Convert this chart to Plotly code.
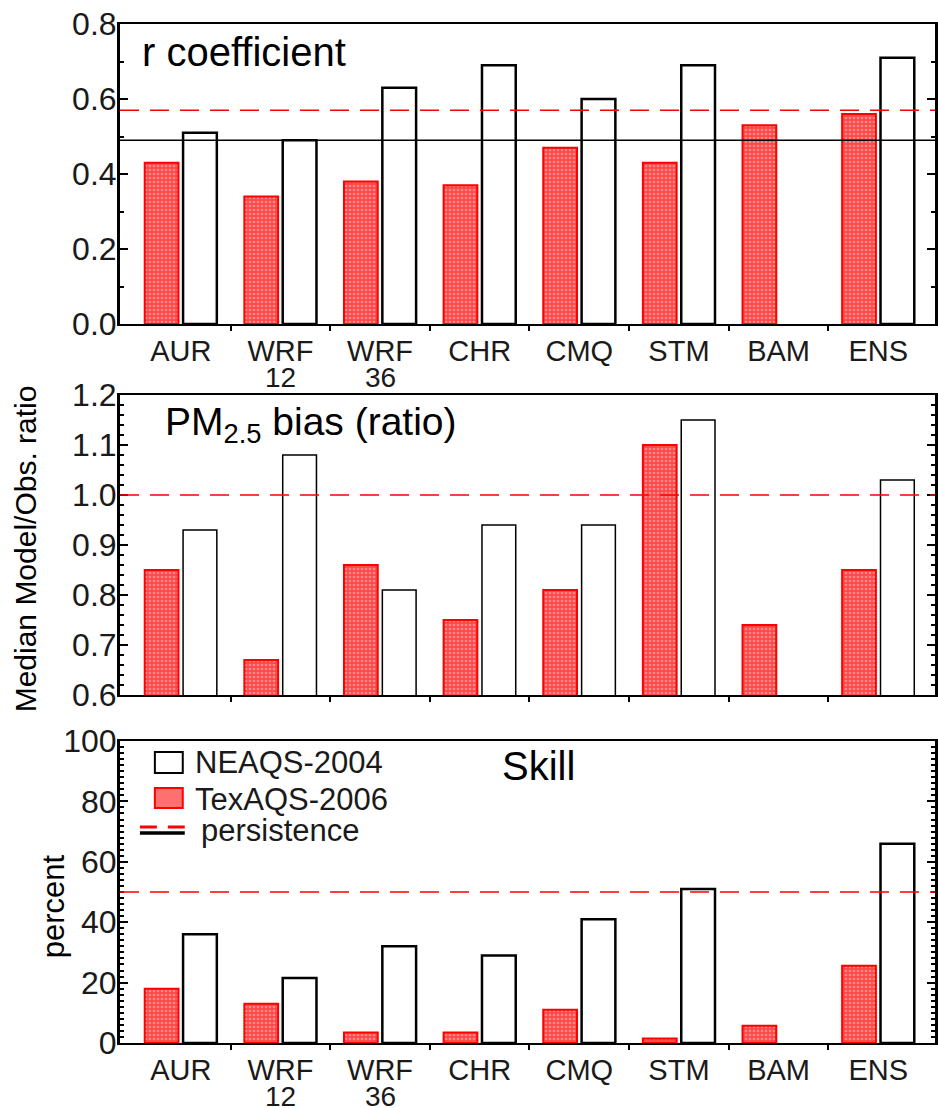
import plotly.graph_objects as go

# Models evaluated (first and second line of each axis label)
model_names = ["AUR", "WRF", "WRF", "CHR", "CMQ", "STM", "BAM", "ENS"]
model_subnames = ["", "12", "36", "", "", "", "", ""]

# Correlation coefficient r
r_texaqs = [0.43, 0.34, 0.38, 0.37, 0.47, 0.43, 0.53, 0.56]
r_neaqs = [0.51, 0.49, 0.63, 0.69, 0.60, 0.69, None, 0.71]
r_persist_texaqs = 0.57
r_persist_neaqs = 0.49

# Median model / observed PM2.5 ratio
bias_texaqs = [0.85, 0.67, 0.86, 0.75, 0.81, 1.10, 0.74, 0.85]
bias_neaqs = [0.93, 1.08, 0.81, 0.94, 0.94, 1.15, None, 1.03]
bias_reference = 1.0

# Skill score (percent)
skill_texaqs = [18, 13, 3.5, 3.5, 11, 1.5, 5.7, 25.6]
skill_neaqs = [36, 21.5, 32, 29, 41, 51, None, 66]
skill_persist_texaqs = 50

FONT = "Liberation Sans, Arial, sans-serif"
W, H = 938, 1108
L, R, T, B = 120, 0, 24, 65


def paper_x(px):
    return (px - L) / (W - L - R)


def paper_y(py):
    return (H - B - py) / (H - T - B)


x_pos = list(range(len(model_names)))
red_marker = dict(
    color="#ff5050",
    line=dict(color="#ff0000", width=2),
    pattern=dict(shape=".", fgcolor="#ffd0d0", bgcolor="#ff4848", size=4, solidity=0.35),
)

fig = go.Figure()

panels = [
    (r_texaqs, r_neaqs, "x", "y", 2.5),
    (bias_texaqs, bias_neaqs, "x2", "y2", 1.5),
    (skill_texaqs, skill_neaqs, "x3", "y3", 2.5),
]
for tex, nea, xa, ya, lw in panels:
    fig.add_trace(go.Bar(x=x_pos, y=tex, xaxis=xa, yaxis=ya, marker=red_marker,
                         name="TexAQS-2006", showlegend=False))
    fig.add_trace(go.Bar(x=x_pos, y=nea, xaxis=xa, yaxis=ya,
                         marker=dict(color="white", line=dict(color="black", width=lw)),
                         name="NEAQS-2004", showlegend=False))

# Persistence / reference lines
dash = "19px,11px"
ref_lines = [
    ("y", r_persist_texaqs, "#ff0000", dash, 1.6),
    ("y", r_persist_neaqs, "black", "solid", 1.5),
    ("y2", bias_reference, "#ff0000", dash, 1.6),
    ("y3", skill_persist_texaqs, "#ff0000", dash, 1.6),
]
for ya, val, col, ds, w in ref_lines:
    xd = {"y": "x", "y2": "x2", "y3": "x3"}[ya]
    fig.add_shape(type="line", xref=f"{xd} domain", yref=ya, x0=0, x1=1, y0=val, y1=val,
                  line=dict(color=col, dash=ds, width=w), layer="above")

x_range = [-0.61, -0.61 + (W - L - R) / 100.0]
domains = [
    [paper_y(324), 1.0],
    [paper_y(695), paper_y(395)],
    [0.0, paper_y(741)],
]

tick_font = dict(family=FONT, size=32, color="#1a1a1a")
xtick_font = dict(family=FONT, size=29, color="#1a1a1a")
axis_common = dict(showgrid=False, zeroline=False, linecolor="black", color="black")

layout = dict(
    width=W, height=H, autosize=False,
    margin=dict(l=L, r=R, t=T, b=B),
    paper_bgcolor="white", plot_bgcolor="white",
    barmode="group", bargap=0.23, bargroupgap=0.12,
    font=dict(family=FONT, color="black"),
    showlegend=False,
)

y_specs = [
    dict(range=[0, 0.8], dtick=0.2, tickformat=".1f", minor_dtick=0.1),
    dict(range=[0.6, 1.2], dtick=0.1, tickformat=".1f", minor_dtick=0.02),
    dict(range=[0, 100], dtick=20, tickformat="d", minor_dtick=2),
]
for i in range(3):
    sfx = "" if i == 0 else str(i + 1)
    ys = y_specs[i]
    layout["xaxis" + sfx] = dict(
        **axis_common, domain=[0, 1], anchor="y" + sfx, range=x_range,
        tickmode="array", tickvals=x_pos, ticktext=model_names,
        showticklabels=(i != 1),
        ticks="", showline=True, linewidth=2, mirror=True,
        tickfont=xtick_font,
        minor=dict(tickmode="array", tickvals=[k + 0.5 for k in x_pos[:-1]],
                   ticks="outside", ticklen=5, tickwidth=2, tickcolor="black"),
    )
    layout["yaxis" + sfx] = dict(
        **axis_common, domain=domains[i], anchor="x" + sfx, range=ys["range"],
        dtick=ys["dtick"], tick0=0, tickformat=ys["tickformat"],
        ticks="inside", ticklen=8, tickwidth=2, tickcolor="black",
        showline=True, linewidth=3, mirror="ticks",
        tickfont=tick_font, ticklabelstandoff=-6,
        minor=dict(dtick=ys["minor_dtick"], tick0=0, ticks="inside", ticklen=4,
                   tickwidth=1.5, tickcolor="black"),
    )

fig.update_layout(**layout)

# Second line of the model labels (top and bottom panels)
for xa, ya in (("x", "y"), ("x3", "y3")):
    for k, sub in enumerate(model_subnames):
        if sub:
            fig.add_annotation(x=k, y=0, xref=xa, yref=f"{ya} domain", text=sub,
                               showarrow=False, yshift=-53, yanchor="middle",
                               font=dict(family=FONT, size=28, color="#1a1a1a"))

# Panel titles
fig.add_annotation(x=paper_x(140), y=paper_y(52), xref="paper", yref="paper",
                   text="r coefficient", showarrow=False, xanchor="left", yanchor="middle",
                   font=dict(family=FONT, size=40, color="black"))
fig.add_annotation(x=paper_x(163), y=paper_y(424), xref="paper", yref="paper",
                   text="PM<sub>2.5</sub> bias (ratio)", showarrow=False,
                   xanchor="left", yanchor="middle",
                   font=dict(family=FONT, size=39, color="black"))
fig.add_annotation(x=paper_x(501), y=paper_y(766), xref="paper", yref="paper",
                   text="Skill", showarrow=False, xanchor="left", yanchor="middle",
                   font=dict(family=FONT, size=40, color="black"))

# Axis titles
fig.add_annotation(x=paper_x(25), y=paper_y(549), xref="paper", yref="paper",
                   text="Median Model/Obs. ratio", textangle=-90, showarrow=False,
                   xanchor="center", yanchor="middle",
                   font=dict(family=FONT, size=30, color="black"))
fig.add_annotation(x=paper_x(53), y=paper_y(906), xref="paper", yref="paper",
                   text="percent", textangle=-90, showarrow=False,
                   xanchor="center", yanchor="middle",
                   font=dict(family=FONT, size=31, color="black"))

# Legend (drawn inside the skill panel)
fig.add_shape(type="rect", xref="paper", yref="paper",
              x0=paper_x(155), x1=paper_x(183), y0=paper_y(773), y1=paper_y(752),
              line=dict(color="black", width=2), fillcolor="white")
fig.add_shape(type="rect", xref="paper", yref="paper",
              x0=paper_x(155), x1=paper_x(183), y0=paper_y(808), y1=paper_y(788),
              line=dict(color="#ff0000", width=2), fillcolor="#ff7070")
fig.add_shape(type="line", xref="paper", yref="paper",
              x0=paper_x(140), x1=paper_x(185), y0=paper_y(833), y1=paper_y(833),
              line=dict(color="black", width=3.5))
for a, b in ((140, 157), (168, 185)):
    fig.add_shape(type="line", xref="paper", yref="paper",
                  x0=paper_x(a), x1=paper_x(b), y0=paper_y(827), y1=paper_y(827),
                  line=dict(color="#ff0000", width=3))
for label, py, px in (("NEAQS-2004", 762, 193), ("TexAQS-2006", 799, 193), ("persistence", 830, 199)):
    fig.add_annotation(x=paper_x(px), y=paper_y(py), xref="paper", yref="paper",
                       text=label, showarrow=False, xanchor="left", yanchor="middle",
                       font=dict(family=FONT, size=31, color="#1a1a1a"))

fig.write_html("out.html")
